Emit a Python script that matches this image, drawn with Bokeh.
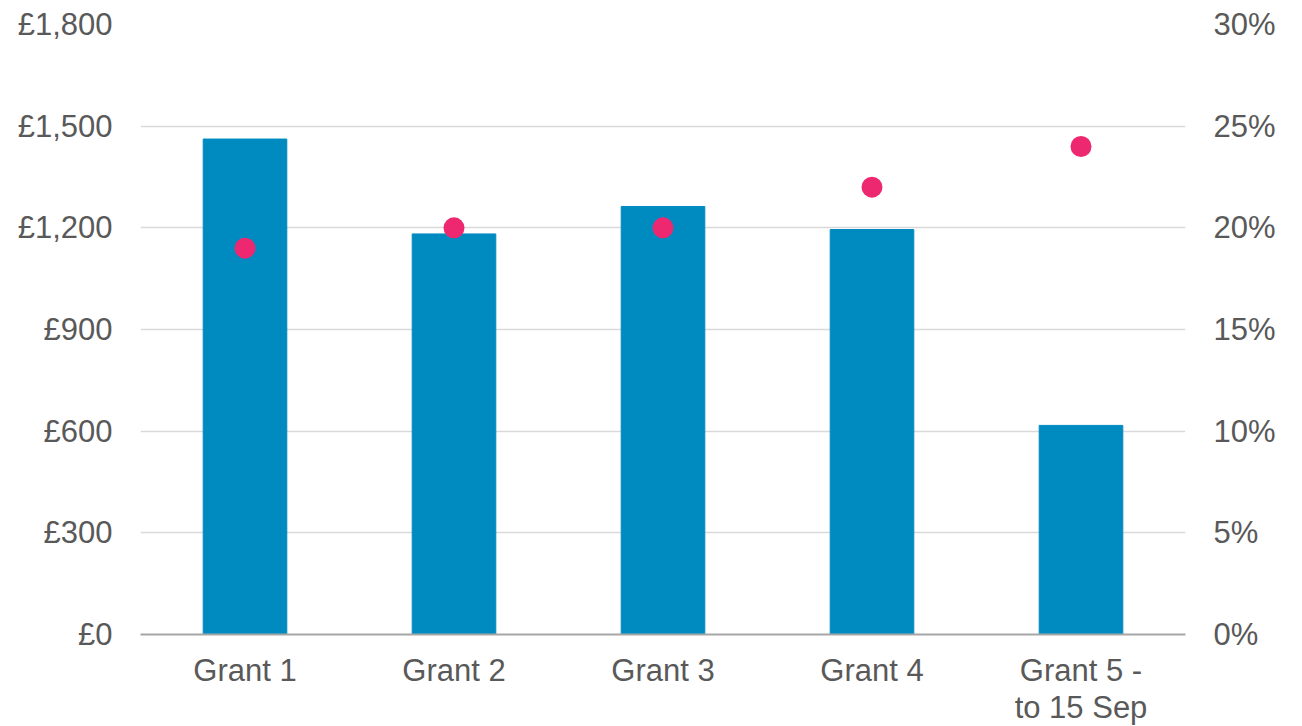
from bokeh.plotting import figure
from bokeh.models import ColumnDataSource, Range1d, LinearAxis, FixedTicker, FactorRange
from bokeh.embed import file_html
from bokeh.resources import INLINE

categories = ["Grant 1", "Grant 2", "Grant 3", "Grant 4", "Grant 5 -\nto 15 Sep"]
amounts = [1462, 1182, 1263, 1195, 617]
percents = [19, 20, 20, 22, 24]
left_ticks = [0, 300, 600, 900, 1200, 1500, 1800]
right_ticks = [0, 5, 10, 15, 20, 25, 30]

FONT = "Liberation Sans"
TXT = "#595959"
FS = "31px"

src = ColumnDataSource(dict(cat=categories, amt=amounts, pct=percents))

p = figure(x_range=FactorRange(*categories, range_padding=0), y_range=Range1d(0, 1800),
           frame_width=1045, frame_height=610,
           min_border_left=140, min_border_right=101, min_border_top=24, min_border_bottom=92,
           output_backend="svg", toolbar_location=None)
p.outline_line_color = None
p.extra_y_ranges = {"pct": Range1d(0, 30)}

p.vbar(x="cat", top="amt", width=0.4, source=src, color="#008BC0")
p.scatter(x="cat", y="pct", source=src, y_range_name="pct", size=21,
          fill_color="#EE2870", line_color=None)

p.xgrid.grid_line_color = None
p.ygrid.ticker = FixedTicker(ticks=left_ticks)
p.ygrid.grid_line_color = "#D9D9D9"
p.ygrid.grid_line_width = 1.5

ya = p.yaxis[0]
ya.ticker = FixedTicker(ticks=left_ticks)
ya.major_label_overrides = {t: "£{:,}".format(t) for t in left_ticks}
ya.axis_line_color = None
ya.major_tick_line_color = None
ya.minor_tick_line_color = None
ya.major_tick_out = 0
ya.minor_tick_out = 0
ya.major_label_standoff = 28
ya.major_label_text_font = FONT
ya.major_label_text_font_size = FS
ya.major_label_text_color = TXT

ra = LinearAxis(y_range_name="pct", ticker=FixedTicker(ticks=right_ticks))
ra.major_label_overrides = {t: "{}%".format(t) for t in right_ticks}
ra.axis_line_color = None
ra.major_tick_line_color = None
ra.minor_tick_line_color = None
ra.major_tick_out = 0
ra.minor_tick_out = 0
ra.major_label_standoff = 28
ra.major_label_text_font = FONT
ra.major_label_text_font_size = FS
ra.major_label_text_color = TXT
p.add_layout(ra, "right")

xa = p.xaxis[0]
xa.axis_line_color = "#A6A6A6"
xa.axis_line_width = 2
xa.major_tick_line_color = None
xa.minor_tick_line_color = None
xa.major_tick_out = 0
xa.major_label_standoff = 18
xa.major_label_text_font = FONT
xa.major_label_text_font_size = FS
xa.major_label_text_color = TXT
xa.major_label_text_line_height = 1.08

open("out.html", "w").write(file_html(p, INLINE))
